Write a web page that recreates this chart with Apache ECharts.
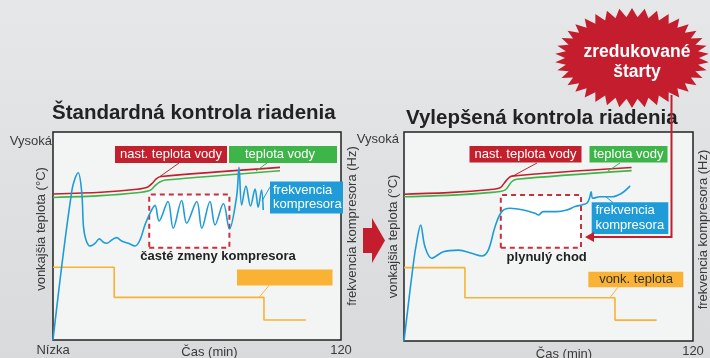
<!DOCTYPE html>
<html>
<head>
<meta charset="utf-8">
<script src="https://cdn.jsdelivr.net/npm/echarts@6/dist/echarts.min.js"></script>
<style>
  html, body { margin: 0; padding: 0; }
  #chart { width: 710px; height: 358px; }
</style>
</head>
<body>
<div id="chart"></div>
<script>
// ---- time axis (minutes) ----
const timeMin = 0;
const timeMax = 120;
const stdTimeLabels = { 0: 'Nízka', 120: '120' };
const impTimeLabels = { 0: '', 120: '120' };

// ---- standard control: [minute, relative level 0..100] ----
const stdSetpoint = [[0,70.2],[20,71],[35,72.5],[39.5,73.6],[41.5,75.5],[43,77.5],[45,78.6],[94.6,83]];
const stdWater    = [[0,68.5],[20,69.4],[35,70.8],[40.5,72],[42.5,74.2],[44.5,76],[47,76.9],[94.6,81.4]];
const stdOutdoor  = [[0,35],[25.5,35],[25.5,20.5],[87.9,20.5],[87.9,9.6],[105.4,9.6]];
const stdCompressor = [
  [0,0],[7.9,72.1],[10.5,80.4],[12,70.7],[12.7,54.5],[13.75,48.1],[15.4,45.2],[17.5,46.5],
  [19.3,48.6],[21,47],[22.4,46.5],[24.5,48.1],[26.5,49.2],[28.6,47.6],[31.4,46.5],[34.2,45.2],
  [36.25,48.1],[38.3,55.3],[40.4,60.9],[42.5,64.7],[44.2,57.2],[47.9,66.6],[50.1,53.7],
  [53.6,67.1],[55.7,56.1],[59.9,66.6],[62,53.7],[65.4,66.6],[67.5,55.3],[71,65.6],[73.5,53.4],
  [76.5,68.9],[77.5,83],[78.6,64.9],[80.4,74],[82.3,64.4],[84.2,72.6],[85.5,63.9],[86.9,72.1],[87.6,62.5]
];

// ---- improved control ----
const impSetpoint = [[0,70.2],[20,71.1],[35,72.4],[40,73.4],[42.6,77],[44.7,78.9],[94.5,83]];
const impWater    = [[0,69],[20,69.8],[35,71],[41.9,72.2],[44.7,76.2],[46.8,77.4],[94.5,81.5]];
const impOutdoor  = [[0,35.1],[25.3,35.1],[25.3,20.7],[87.6,20.7],[87.6,10],[104.9,10]];
const impCompressor = [
  [0,0],[3.9,37.2],[5.4,48.3],[6.9,55.5],[8.7,45.1],[11.5,39.6],[16.3,42.7],[22.6,43.5],
  [28.1,42],[32.3,40.7],[35,43.5],[37.8,54.7],[40.6,61.9],[44,63.5],[49.5,62.7],[54.4,61.1],
  [55.8,60.3],[57.8,61.9],[63.4,61.9],[67.6,62.7],[71,64.3],[73.8,65.1],[75.9,65.9],[77,68.3],
  [77.7,71.4],[78.4,68.3],[81.4,69],[86.3,69],[90.4,70.7],[93.9,74.2]
];

// highlighted windows [t0, t1, v0, v1]
const stdWindow = [40.1, 73.5, 44.4, 70];
const impWindow = [40.2, 73.5, 44.6, 69.9];

// ---- styling ----
const FONT = '"Liberation Sans", Arial, Helvetica, sans-serif';
const RED = '#c3202e';
const GREEN = '#3db549';
const BLUE = '#1f9bd7';
const ORANGE = '#f9b233';
const TEXT = '#3a3a3a';

const chart = echarts.init(document.getElementById('chart'), null, { renderer: 'canvas' });

function xAxisFor(grid, labels, namePad, nameGap) {
  return {
    type: 'value', gridIndex: grid, min: timeMin, max: timeMax, interval: 120,
    name: 'Čas (min)', nameLocation: 'middle', nameGap: nameGap, nameMoveOverlap: false,
    nameTextStyle: { color: TEXT, fontFamily: FONT, fontSize: 13, padding: [0, 0, 0, namePad] },
    axisLine: { show: false }, axisTick: { show: false }, splitLine: { show: false },
    axisLabel: {
      margin: 4, color: TEXT, fontFamily: FONT, fontSize: 13,
      formatter: v => labels[v] !== undefined ? labels[v] : ''
    }
  };
}
function yAxisFor(grid, pos, name, gap, shiftUp) {
  return {
    type: 'value', gridIndex: grid, position: pos, min: 0, max: 100,
    name: name, nameLocation: 'middle', nameGap: gap, nameMoveOverlap: false,
    nameTextStyle: { color: TEXT, fontFamily: FONT, fontSize: 13, padding: [0, 0, 0, shiftUp * 2] },
    axisLine: { show: false }, axisTick: { show: false }, splitLine: { show: false },
    axisLabel: { show: false }
  };
}
function lineSeries(name, data, xi, yi, color, smooth) {
  return {
    name, type: 'line', data, xAxisIndex: xi, yAxisIndex: yi, z: 3,
    symbol: 'none', smooth: smooth, silent: true,
    lineStyle: { color, width: 1.6 }
  };
}
// empty carrier series holding the dashed highlight window, drawn beneath the curves
function windowSeries(w, xi, yi) {
  return {
    type: 'line', data: [], xAxisIndex: xi, yAxisIndex: yi, z: 1, silent: true,
    markArea: {
      silent: true, z: 1,
      itemStyle: { color: '#ffffff', borderColor: '#c8303d', borderWidth: 2, borderType: [5, 4] },
      data: [[{ coord: [w[0], w[2]] }, { coord: [w[1], w[3]] }]]
    }
  };
}

// ---- decorations ----
function box(x, y, w, h, fill) {
  return { type: 'rect', z: 50, shape: { x, y, width: w, height: h }, style: { fill } };
}
function label(text, x, y, opts) {
  opts = opts || {};
  return {
    type: 'text', z: opts.z || 52,
    style: {
      text, x, y,
      fill: opts.fill || '#ffffff',
      font: (opts.bold ? 'bold ' : '') + (opts.size || 13) + 'px ' + FONT,
      align: opts.align || 'center', textAlign: opts.align || 'center',
      verticalAlign: 'middle', textVerticalAlign: 'middle',
      lineHeight: opts.lineHeight || 15
    }
  };
}
function leader(x1, y1, x2, y2, color) {
  return { type: 'line', z: 49, shape: { x1, y1, x2, y2 }, style: { stroke: color, lineWidth: 1 } };
}
function starburst(cx, cy, rx, ry, depthX, depthY, n) {
  const pts = [];
  for (let i = 0; i < 2 * n; i++) {
    const a = Math.PI * i / n - Math.PI / 2;
    const outer = i % 2 === 0;
    const ax = outer ? rx : rx - depthX;
    const ay = outer ? ry : ry - depthY;
    pts.push([cx + ax * Math.cos(a), cy + ay * Math.sin(a)]);
  }
  return pts;
}

const graphics = [
  // left panel annotations
  box(115, 146, 112, 17, RED), label('nast. teplota vody', 171, 154.5),
  box(229, 146, 108, 17, GREEN), label('teplota vody', 280, 154.5),
  box(270, 181.5, 73, 32, BLUE), label('frekvencia\nkompresora', 273, 197.5, { align: 'left', lineHeight: 14.5 }),
  box(237, 269.5, 95.5, 16, ORANGE),
  leader(179, 163, 160, 176.5, RED),
  leader(267, 163, 256, 171, GREEN),
  leader(270, 187, 262, 201, BLUE),
  leader(269, 285.5, 259, 297.5, ORANGE),
  label('časté zmeny kompresora', 218, 256, { fill: '#222', bold: true }),
  label('Vysoká', 52, 141, { fill: TEXT, align: 'right' }),

  // right panel annotations
  box(469.5, 146, 112, 16.5, RED), label('nast. teplota vody', 525.5, 154.3),
  box(589.5, 146, 78, 16.5, GREEN), label('teplota vody', 628.5, 154.3),
  box(591.7, 202.3, 76.6, 31.7, BLUE), label('frekvencia\nkompresora', 595.5, 218, { align: 'left', lineHeight: 15.5 }),
  box(588.3, 271.7, 95, 15.6, ORANGE), label('vonk. teplota', 636, 279.5, { fill: '#333' }),
  leader(537, 163, 512, 176.5, RED),
  leader(620, 163, 608, 171, GREEN),
  leader(613, 202.5, 606, 197, BLUE),
  leader(618, 287.3, 610, 297.5, ORANGE),
  label('plynulý chod', 546.7, 257, { fill: '#222', bold: true }),
  label('Vysoká', 399, 139, { fill: TEXT, align: 'right' }),

  // block arrow between panels
  { type: 'polygon', z: 50, shape: { points: [[363,228],[372,228],[372,218],[385,240.5],[372,263],[372,253],[363,253]] }, style: { fill: '#c41e2e' } },

  // callout: reduced starts
  { type: 'polyline', z: 60, shape: { points: [[671.5, 95], [671.5, 237], [593, 237]] }, style: { stroke: '#c41e2e', lineWidth: 2, fill: null } },
  { type: 'polygon', z: 60, shape: { points: [[585, 237], [594, 232], [594, 242]] }, style: { fill: '#c41e2e' } },
  { type: 'polygon', z: 61, shape: { points: starburst(632, 58, 77, 50, 10, 9, 38) }, style: { fill: '#c41e2e' } },
  label('zredukované', 637, 52, { bold: true, size: 17.5, z: 62 }),
  label('štarty', 637, 72, { bold: true, size: 17.5, z: 62 })
];

chart.setOption({
  animation: false,
  backgroundColor: {
    type: 'linear', x: 0, y: 0, x2: 0, y2: 1,
    colorStops: [{ offset: 0, color: '#e6e7e8' }, { offset: 1, color: '#d9dadc' }]
  },
  title: [
    { text: 'Štandardná kontrola riadenia', left: 52, top: 101, padding: 0,
      textStyle: { color: '#222', fontFamily: FONT, fontWeight: 'bold', fontSize: 20.5, lineHeight: 24 } },
    { text: 'Vylepšená kontrola riadenia', left: 406, top: 106, padding: 0,
      textStyle: { color: '#222', fontFamily: FONT, fontWeight: 'bold', fontSize: 20.5, lineHeight: 24 } }
  ],
  grid: [
    { left: 53, top: 132, width: 288, height: 208, show: true, backgroundColor: '#f3f5f5', borderColor: '#222', borderWidth: 1.5, containLabel: false, outerBoundsMode: 'none' },
    { left: 404, top: 132, width: 289, height: 209, show: true, backgroundColor: '#f3f5f5', borderColor: '#222', borderWidth: 1.5, containLabel: false, outerBoundsMode: 'none' }
  ],
  xAxis: [xAxisFor(0, stdTimeLabels, 25, 6), xAxisFor(1, impTimeLabels, 31, 7)],
  yAxis: [
    yAxisFor(0, 'left', 'vonkajšia teplota (°C)', 5, 7),
    yAxisFor(0, 'right', 'frekvencia kompresora (Hz)', 5, 10),
    yAxisFor(1, 'left', 'vonkajšia teplota (°C)', 4, 0),
    yAxisFor(1, 'right', 'frekvencia kompresora (Hz)', 4, 7)
  ],
  series: [
    windowSeries(stdWindow, 0, 1),
    windowSeries(impWindow, 1, 3),
    lineSeries('vonk. teplota', stdOutdoor, 0, 0, ORANGE, false),
    lineSeries('teplota vody', stdWater, 0, 0, GREEN, 0.3),
    lineSeries('nast. teplota vody', stdSetpoint, 0, 0, RED, 0.3),
    lineSeries('frekvencia kompresora', stdCompressor, 0, 1, BLUE, 0.35),
    lineSeries('vonk. teplota', impOutdoor, 1, 2, ORANGE, false),
    lineSeries('teplota vody', impWater, 1, 2, GREEN, 0.3),
    lineSeries('nast. teplota vody', impSetpoint, 1, 2, RED, 0.3),
    lineSeries('frekvencia kompresora', impCompressor, 1, 3, BLUE, 0.35)
  ],
  graphic: graphics
});
</script>
</body>
</html>
